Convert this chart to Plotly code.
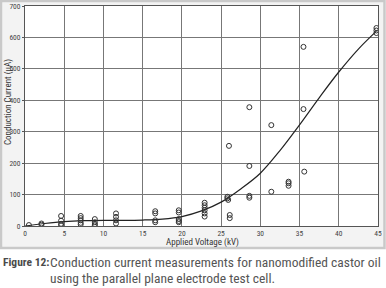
import plotly.graph_objects as go

# Measured points (voltage kV, current uA)
voltage = [0.5,
           2.1, 2.1,
           4.6, 4.6, 4.6, 4.6,
           7.1, 7.1, 7.1, 7.1, 7.1,
           8.9, 8.9, 8.9, 8.9,
           11.6, 11.6, 11.6, 11.6,
           16.6, 16.6, 16.6, 16.6,
           19.6, 19.6, 19.6, 19.6, 19.6,
           22.9, 22.9, 22.9, 22.9, 22.9, 22.9,
           26.0, 25.8, 25.8, 25.9, 26.1, 26.1,
           28.6, 28.6, 28.6, 28.6,
           31.4, 31.4,
           33.6, 33.6, 33.6,
           35.5, 35.5, 35.6,
           44.8, 44.8, 44.8]
current = [3,
           4, 8,
           32, 17, 7, 2,
           32, 25, 18, 10, 5,
           22, 12, 6, 2,
           40, 29, 18, 8,
           47, 40, 18, 12,
           50, 43, 22, 16, 12,
           74, 66, 58, 50, 40, 30,
           255, 93, 88, 83, 35, 25,
           378, 191, 96, 90,
           321, 109,
           141, 136, 128,
           570, 372, 173,
           630, 622, 614]

# Fitted trend curve
fit_v = [0, 2.5, 5, 7.5, 10, 12.5, 15, 17.5, 20, 22.5, 25, 27.5, 30, 32.5, 35, 37.5, 40, 42.5, 44.8]
fit_i = [0, 8, 14, 17, 18, 18, 19, 22, 30, 48, 76, 118, 168, 240, 322, 408, 490, 563, 620]

x_ticks = [0, 5, 10, 15, 20, 25, 30, 35, 40, 45]
y_ticks = [0, 100, 200, 300, 400, 500, 600, 700]

NARROW = "Liberation Sans Narrow, Arial Narrow, Roboto Condensed, Liberation Sans, sans-serif"

fig = go.Figure()
fig.add_trace(go.Scatter(x=fit_v, y=fit_i, mode="lines", line=dict(color="#222222", width=1.2, shape="spline", smoothing=1.0),
                         hoverinfo="skip", showlegend=False))
fig.add_trace(go.Scatter(x=voltage, y=current, mode="markers",
                         marker=dict(symbol="circle-open", size=5, color="#333333", line=dict(width=1, color="#333333")),
                         showlegend=False))

# plot area: px x 25..378, y 6..226
L, R, T, B = 25, 8, 6, 62
W, H = 386, 288
pw, ph = W - L - R, H - T - B

def px_x(px):
    return (px - L) / pw

def px_y(py):
    return (H - B - py) / ph

shapes = [
    dict(type="rect", xref="paper", yref="paper", x0=px_x(1), x1=px_x(384.5), y0=px_y(248), y1=px_y(1),
         fillcolor="#f3f3f3", line=dict(color="#c9c9c9", width=2.5), layer="below"),
    dict(type="rect", xref="paper", yref="paper", x0=0, x1=1, y0=0, y1=1,
         fillcolor="white", line=dict(width=0), layer="below"),
]

annotations = [
    dict(text="Conduction Current (µA)", xref="paper", yref="paper", x=px_x(8), y=px_y(102),
         textangle=-90, showarrow=False, font=dict(family=NARROW, size=9, color="#333333"),
         xanchor="center", yanchor="middle"),
    dict(text="Applied Voltage (kV)", xref="paper", yref="paper", x=px_x(202), y=px_y(242.5),
         showarrow=False, font=dict(family=NARROW, size=9, color="#333333"),
         xanchor="center", yanchor="middle"),
    dict(text="<b>Figure 12:</b>", xref="paper", yref="paper", x=px_x(1), y=px_y(262),
         showarrow=False, font=dict(family=NARROW, size=11.5, color="#4a4a4a"),
         xanchor="left", yanchor="middle"),
    dict(text="Conduction current measurements for nanomodified castor oil", xref="paper", yref="paper",
         x=px_x(48), y=px_y(262), showarrow=False, font=dict(family=NARROW, size=13.5, color="#555555"),
         xanchor="left", yanchor="middle"),
    dict(text="using the parallel plane electrode test cell.", xref="paper", yref="paper",
         x=px_x(48), y=px_y(278), showarrow=False, font=dict(family=NARROW, size=13.5, color="#555555"),
         xanchor="left", yanchor="middle"),
]

fig.update_layout(
    width=W, height=H,
    margin=dict(l=L, r=R, t=T, b=B, autoexpand=False),
    paper_bgcolor="white", plot_bgcolor="white",
    shapes=shapes, annotations=annotations,
    xaxis=dict(range=[0, 45], tickvals=x_ticks, ticktext=[str(v) for v in x_ticks],
               showgrid=True, gridcolor="#777777", gridwidth=1, zeroline=False,
               showline=True, linecolor="#555555", linewidth=1, mirror=True,
               ticks="", ticklabelstandoff=0,
               tickfont=dict(family=NARROW, size=7.5, color="#444444")),
    yaxis=dict(range=[0, 700], tickvals=y_ticks, ticktext=[str(v) for v in y_ticks],
               showgrid=True, gridcolor="#777777", gridwidth=1, zeroline=False,
               showline=True, linecolor="#555555", linewidth=1, mirror=True,
               ticks="outside", ticklen=2, tickcolor="#555555",
               tickfont=dict(family=NARROW, size=7.5, color="#444444")),
)

fig.write_html("out.html", config={"displayModeBar": False},
               post_script="document.body.style.margin='0';document.body.style.padding='0';")
